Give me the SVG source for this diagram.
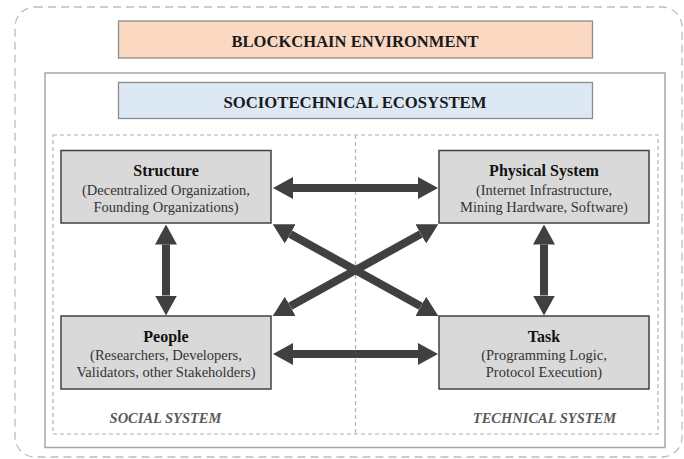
<svg xmlns="http://www.w3.org/2000/svg" width="684" height="459" viewBox="0 0 684 459">
<style>
.title{font-family:"Liberation Serif","Times New Roman",serif;font-weight:bold;font-size:17px;fill:#1a1a1a;text-anchor:middle}
.head{font-family:"Liberation Serif","Times New Roman",serif;font-weight:bold;font-size:16px;fill:#111;text-anchor:middle}
.sub{font-family:"Liberation Serif","Times New Roman",serif;font-size:14.5px;fill:#333;text-anchor:middle}
.sys{font-family:"Liberation Serif","Times New Roman",serif;font-weight:bold;font-style:italic;font-size:14.5px;fill:#5a5a5a;text-anchor:middle}
.node{fill:#d9d9d9;stroke:#404040;stroke-width:1.5}
.conn{stroke:#404040;stroke-width:8;fill:none;marker-start:url(#ah);marker-end:url(#ah)}
</style>
<defs>
<marker id="ah" markerUnits="userSpaceOnUse" viewBox="0 0 20 22" refX="0" refY="11" markerWidth="20" markerHeight="22" orient="auto-start-reverse">
<path d="M0,0 L20,11 L0,22 z" fill="#404040"/>
</marker>
</defs>
<rect x="15" y="7" width="667" height="450" rx="20" ry="20" fill="none" stroke="#bdbdbd" stroke-width="1.3" stroke-dasharray="8,5"/>
<g id="blockchain-environment">
<rect x="118.5" y="21" width="474" height="37" fill="#fad8c2" stroke="#8c8c8c" stroke-width="1.3"/>
<text class="title" x="355" y="47" textLength="247" lengthAdjust="spacingAndGlyphs">BLOCKCHAIN ENVIRONMENT</text>
</g>
<rect x="45" y="73" width="620" height="374.5" fill="none" stroke="#a6a6a6" stroke-width="1.5"/>
<g id="sociotechnical-ecosystem">
<rect x="118.5" y="82.5" width="474" height="36" fill="#dde8f5" stroke="#8c8c8c" stroke-width="1.3"/>
<text class="title" x="355" y="107.5" textLength="263" lengthAdjust="spacingAndGlyphs">SOCIOTECHNICAL ECOSYSTEM</text>
</g>
<g id="systems" fill="none" stroke="#b0b0b0" stroke-width="1.2" stroke-dasharray="4,3">
<rect x="53" y="135" width="605" height="299"/>
<line x1="355.5" y1="135" x2="355.5" y2="434"/>
</g>
<text class="sys" x="165.5" y="423">SOCIAL SYSTEM</text>
<text class="sys" x="544.5" y="423">TECHNICAL SYSTEM</text>
<g id="connectors">
<line class="conn" x1="293" y1="188" x2="418" y2="188"/>
<line class="conn" x1="293" y1="354" x2="418" y2="354"/>
<line class="conn" x1="166" y1="244.5" x2="166" y2="295.5"/>
<line class="conn" x1="544" y1="244.5" x2="544" y2="295.5"/>
<line class="conn" x1="290.2" y1="234" x2="420.8" y2="306.3"/>
<line class="conn" x1="420.8" y1="234" x2="290.2" y2="306.3"/>
</g>
<g id="structure">
<rect class="node" x="61" y="150.5" width="210" height="72.5"/>
<text class="head" x="166" y="176">Structure</text>
<text class="sub" x="166" y="194.5">(Decentralized Organization,</text>
<text class="sub" x="166" y="211.5">Founding Organizations)</text>
</g>
<g id="physical-system">
<rect class="node" x="439" y="150.5" width="210" height="72.5"/>
<text class="head" x="544" y="176">Physical System</text>
<text class="sub" x="544" y="194.5">(Internet Infrastructure,</text>
<text class="sub" x="544" y="211.5">Mining Hardware, Software)</text>
</g>
<g id="people">
<rect class="node" x="61" y="316" width="210" height="73"/>
<text class="head" x="166" y="342">People</text>
<text class="sub" x="166" y="360">(Researchers, Developers,</text>
<text class="sub" x="166" y="377">Validators, other Stakeholders)</text>
</g>
<g id="task">
<rect class="node" x="439" y="316" width="210" height="73"/>
<text class="head" x="544" y="342">Task</text>
<text class="sub" x="544" y="360">(Programming Logic,</text>
<text class="sub" x="544" y="377">Protocol Execution)</text>
</g>
</svg>
